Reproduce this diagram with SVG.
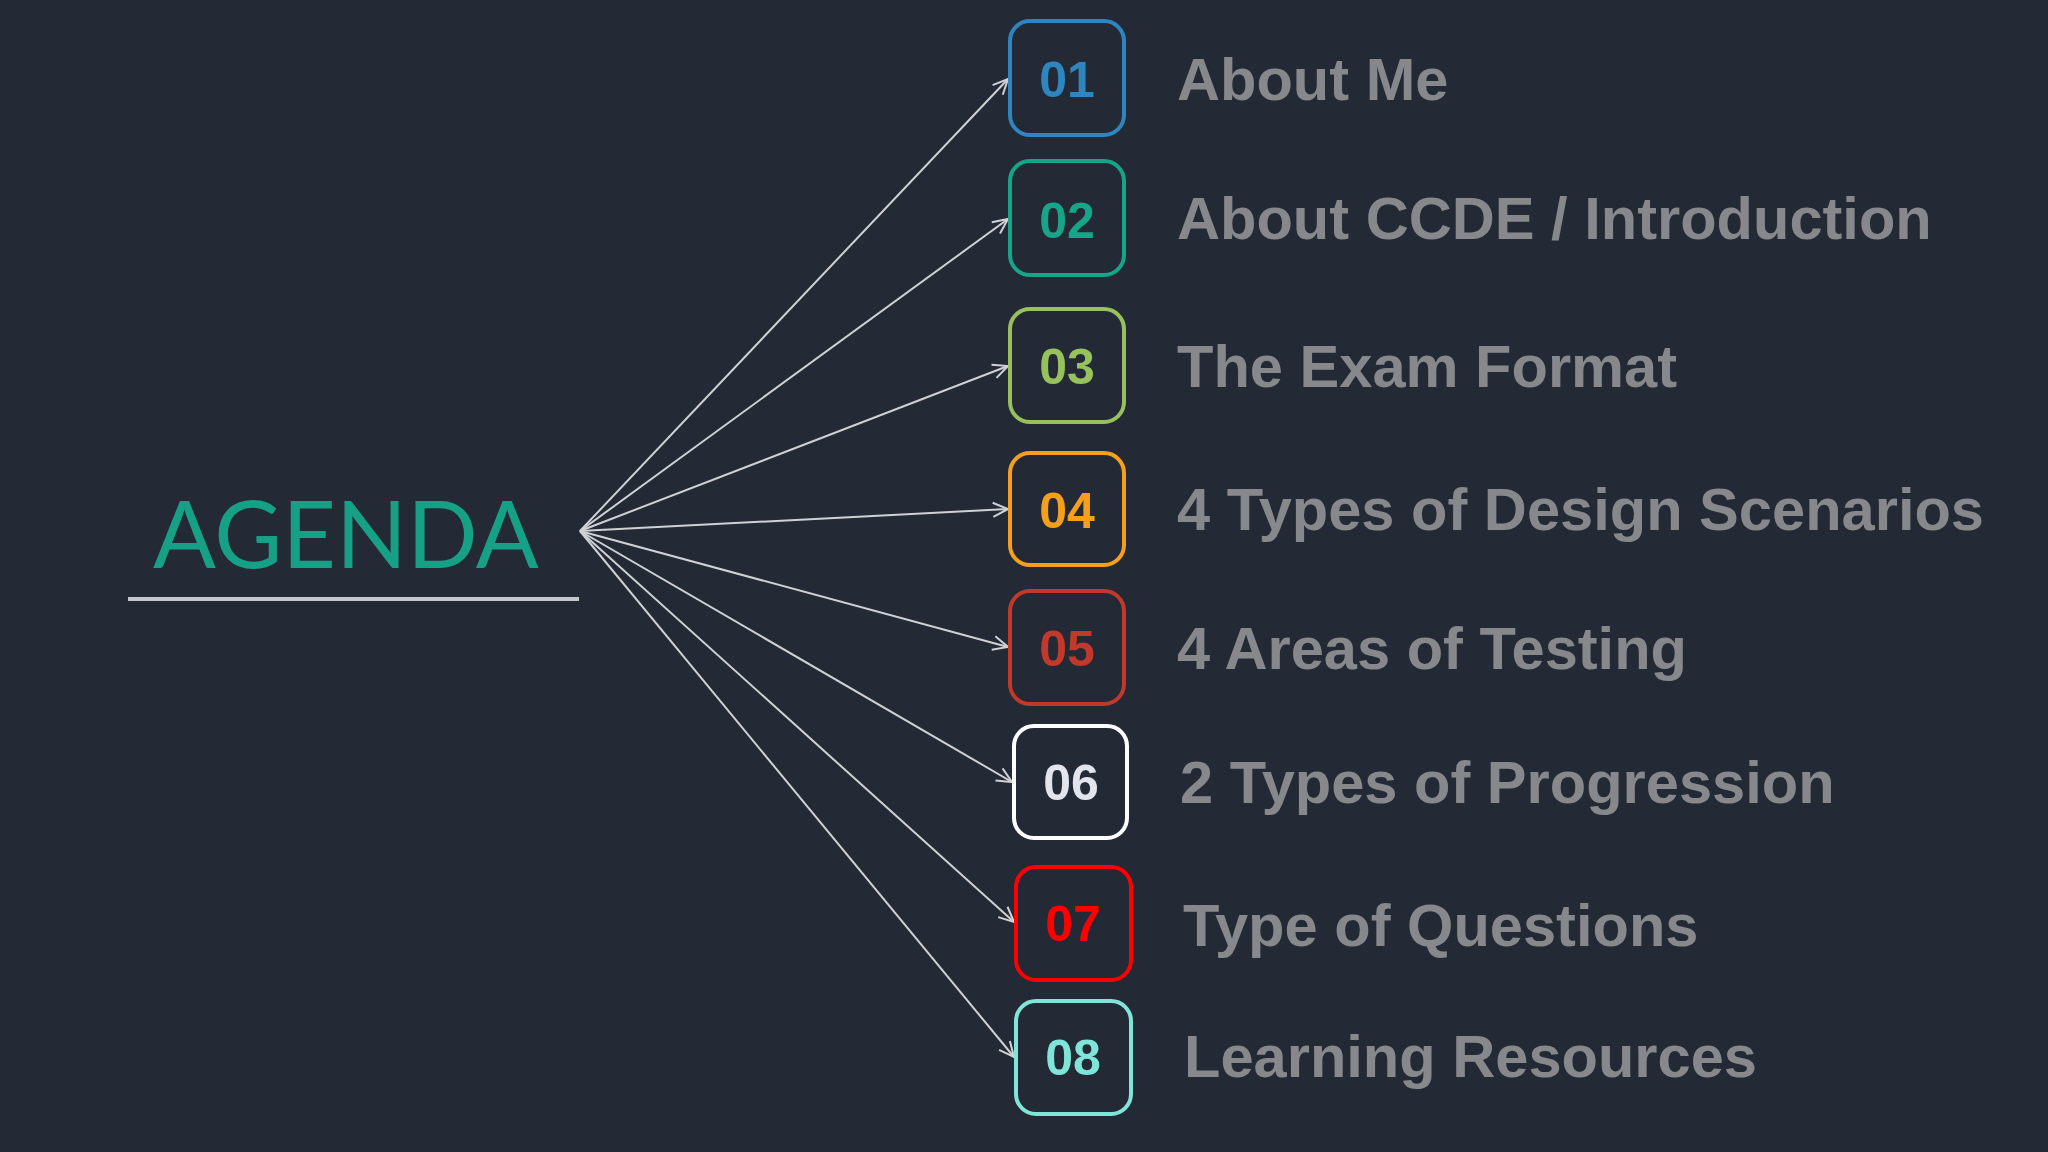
<svg xmlns="http://www.w3.org/2000/svg" width="2048" height="1152" viewBox="0 0 2048 1152">
<defs>
<style>
.num{font-family:"Liberation Sans",Arial,sans-serif;font-weight:bold;font-size:50px;text-anchor:middle}
.lbl{font-family:"Liberation Sans",Arial,sans-serif;font-weight:bold;font-size:59.6px;fill:#86888b}
.box{fill:#232935;stroke-width:4}
.conn{stroke:#cfd1d5;stroke-width:2;fill:none;marker-end:url(#arr)}
</style>
<marker id="arr" markerUnits="userSpaceOnUse" markerWidth="24" markerHeight="24" viewBox="-2 -12 24 24" refX="16" refY="0" orient="auto">
<path d="M1,-7 L16,0 L1,7" fill="none" stroke="#cfd1d5" stroke-width="2"/>
</marker>
</defs>
<rect width="2048" height="1152" fill="#232935"/>
<g id="title">
<text x="153" y="568" font-family="Lato, 'Open Sans', sans-serif" font-size="93" fill="#16a085">AGENDA</text>
<line x1="128" y1="599" x2="579" y2="599" stroke="#c5c7ca" stroke-width="4"/>
</g>
<g id="connectors">
<line class="conn" x1="580" y1="531" x2="1008" y2="79"/>
<line class="conn" x1="580" y1="531" x2="1008" y2="219"/>
<line class="conn" x1="580" y1="531" x2="1008" y2="366"/>
<line class="conn" x1="580" y1="531" x2="1008" y2="509"/>
<line class="conn" x1="580" y1="531" x2="1008" y2="647"/>
<line class="conn" x1="580" y1="531" x2="1012" y2="782"/>
<line class="conn" x1="580" y1="531" x2="1014" y2="922"/>
<line class="conn" x1="580" y1="531" x2="1014" y2="1057"/>
</g>
<g id="item01">
<rect class="box" x="1010" y="21" width="114" height="114" rx="20" stroke="#2e86c1"/>
<text class="num" x="1067" y="97" fill="#2e86c1">01</text>
<text class="lbl" x="1177" y="100">About Me</text>
</g>
<g id="item02">
<rect class="box" x="1010" y="161" width="114" height="114" rx="20" stroke="#17a589"/>
<text class="num" x="1067" y="238" fill="#17a589">02</text>
<text class="lbl" x="1177" y="239">About CCDE / Introduction</text>
</g>
<g id="item03">
<rect class="box" x="1010" y="309" width="114" height="113" rx="20" stroke="#97c15c"/>
<text class="num" x="1067" y="384" fill="#97c15c">03</text>
<text class="lbl" x="1177" y="387">The Exam Format</text>
</g>
<g id="item04">
<rect class="box" x="1010" y="453" width="114" height="112" rx="20" stroke="#f5a01a"/>
<text class="num" x="1067" y="528" fill="#f5a01a">04</text>
<text class="lbl" x="1177" y="530">4 Types of Design Scenarios</text>
</g>
<g id="item05">
<rect class="box" x="1010" y="591" width="114" height="113" rx="20" stroke="#c0392b"/>
<text class="num" x="1067" y="666" fill="#c0392b">05</text>
<text class="lbl" x="1177" y="669">4 Areas of Testing</text>
</g>
<g id="item06">
<rect class="box" x="1014" y="726" width="113" height="112" rx="20" stroke="#ffffff"/>
<text class="num" x="1071" y="800" fill="#e2e4ee">06</text>
<text class="lbl" x="1180" y="803">2 Types of Progression</text>
</g>
<g id="item07">
<rect class="box" x="1016" y="867" width="115" height="113" rx="20" stroke="#ff0000"/>
<text class="num" x="1073" y="941" fill="#ff0000">07</text>
<text class="lbl" x="1183" y="946">Type of Questions</text>
</g>
<g id="item08">
<rect class="box" x="1016" y="1001" width="115" height="113" rx="20" stroke="#7fe5d8"/>
<text class="num" x="1073" y="1075" fill="#7fe5d8">08</text>
<text class="lbl" x="1184" y="1077">Learning Resources</text>
</g>
</svg>
